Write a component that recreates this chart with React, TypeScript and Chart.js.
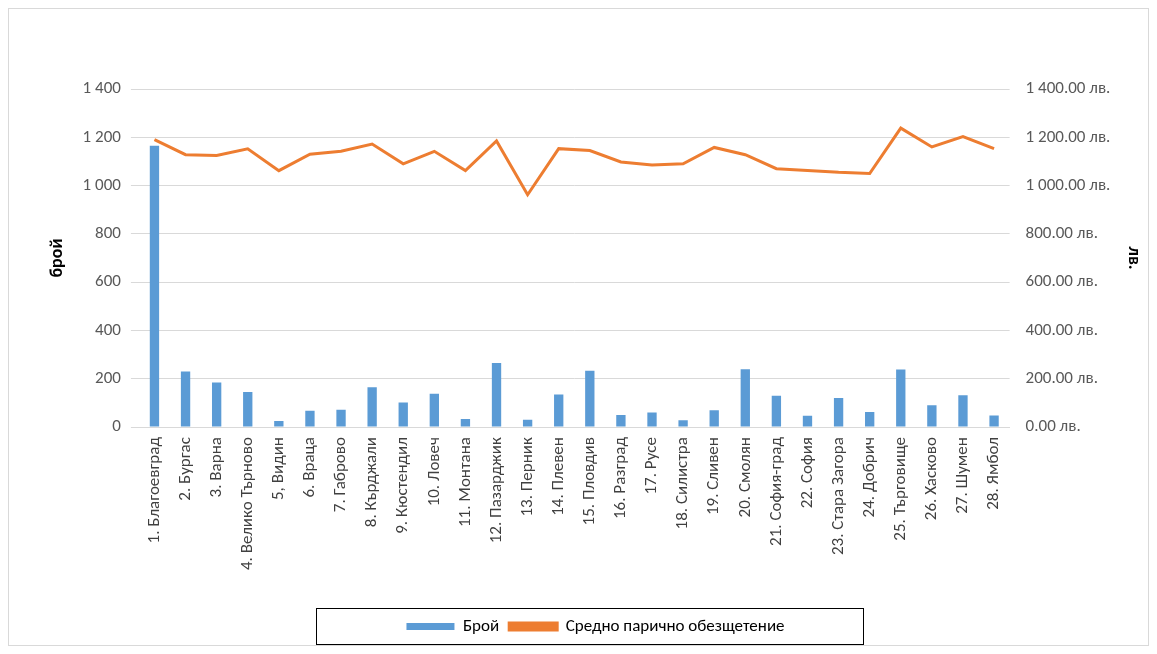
import { useEffect, useRef } from 'react';
import Chart from 'chart.js/auto';

const REGIONS = [
  '1. Благоевград', '2. Бургас', '3. Варна', '4. Велико Търново', '5, Видин', '6. Враца',
  '7. Габрово', '8. Кърджали', '9. Кюстендил', '10. Ловеч', '11. Монтана', '12. Пазарджик',
  '13. Перник', '14. Плевен', '15. Пловдив', '16. Разград', '17. Русе', '18. Силистра',
  '19. Сливен', '20. Смолян', '21. София-град', '22. София', '23. Стара Загора', '24. Добрич',
  '25. Търговище', '26. Хасково', '27. Шумен', '28. Ямбол',
];

const COUNT = [
  1165, 230, 185, 145, 25, 68, 72, 165, 102, 138, 33, 265, 30, 135,
  233, 50, 60, 28, 70, 240, 130, 47, 120, 62, 238, 90, 132, 48,
];

const AVG_PAY = [
  1190, 1128, 1125, 1152, 1062, 1130, 1142, 1172, 1090, 1142, 1062, 1185, 962, 1153,
  1145, 1098, 1085, 1090, 1158, 1128, 1070, 1063, 1055, 1050, 1238, 1160, 1203, 1153,
];

const FONT = 'Carlito, "Liberation Sans", Arial, sans-serif';

function spaced(n: number) {
  return String(Math.round(n)).replace(/\B(?=(\d{3})+(?!\d))/g, ' ');
}

const legendBox = {
  id: 'legendBox',
  afterDraw(chart: Chart) {
    const lg = chart.legend;
    if (!lg) return;
    const ctx = chart.ctx;
    ctx.save();
    ctx.strokeStyle = '#000';
    ctx.lineWidth = 1;
    ctx.strokeRect(307.5, lg.top + 0.5, 547, lg.height - 1);
    ctx.restore();
  },
};

export default function App() {
  const ref = useRef<HTMLCanvasElement>(null);

  useEffect(() => {
    if (!ref.current) return;
    const chart = new Chart(ref.current, {
      type: 'bar',
      data: {
        labels: REGIONS,
        datasets: [
          {
            type: 'line',
            label: 'Средно парично обезщетение',
            data: AVG_PAY,
            borderColor: '#ed7d31',
            backgroundColor: '#ed7d31',
            borderWidth: 3,
            pointRadius: 0,
            tension: 0,
            yAxisID: 'y2',
          },
          {
            type: 'bar',
            label: 'Брой',
            data: COUNT,
            backgroundColor: '#5b9bd5',
            barPercentage: 0.3,
            categoryPercentage: 1,
            yAxisID: 'y',
          },
        ],
      },
      options: {
        animation: false,
        responsive: true,
        maintainAspectRatio: false,
        layout: { padding: { top: 80, left: 34, right: 0, bottom: 0 } },
        plugins: {
          tooltip: { enabled: false },
          legend: {
            position: 'bottom',
            reverse: true,
            labels: {
              font: { family: FONT, size: 17 },
              color: '#000',
              boxWidth: 48,
              boxHeight: 7,
              padding: 10,
            },
          },
        },
        scales: {
          x: {
            grid: { display: false },
            border: { color: '#d9d9d9' },
            afterFit: (s) => {
              s.height += 36;
            },
            ticks: {
              color: '#404040',
              font: { family: FONT, size: 17 },
              maxRotation: 90,
              minRotation: 90,
              autoSkip: false,
              padding: 2,
            },
          },
          y: {
            min: 0,
            max: 1400,
            ticks: {
              stepSize: 200,
              color: '#595959',
              font: { family: FONT, size: 17 },
              callback: (v) => spaced(Number(v)),
              padding: 10,
            },
            grid: { color: '#d9d9d9' },
            border: { display: false },
            title: {
              display: true,
              text: 'брой',
              color: '#000',
              font: { family: FONT, size: 18, weight: 'bold' },
            },
          },
          y2: {
            position: 'right',
            min: 0,
            max: 1400,
            ticks: {
              stepSize: 200,
              color: '#595959',
              font: { family: FONT, size: 17 },
              callback: (v) => `${spaced(Number(v))}.00 лв.`,
              padding: 8,
            },
            grid: { display: false },
            border: { display: false },
            title: {
              display: true,
              text: 'лв.',
              color: '#000',
              font: { family: FONT, size: 18, weight: 'bold' },
            },
          },
        },
      },
      plugins: [legendBox],
    });
    return () => chart.destroy();
  }, []);

  return (
    <div style={{ width: 1141, height: 638, border: '1px solid #d9d9d9', boxSizing: 'border-box', background: '#fff' }}>
      <canvas ref={ref} />
    </div>
  );
}
